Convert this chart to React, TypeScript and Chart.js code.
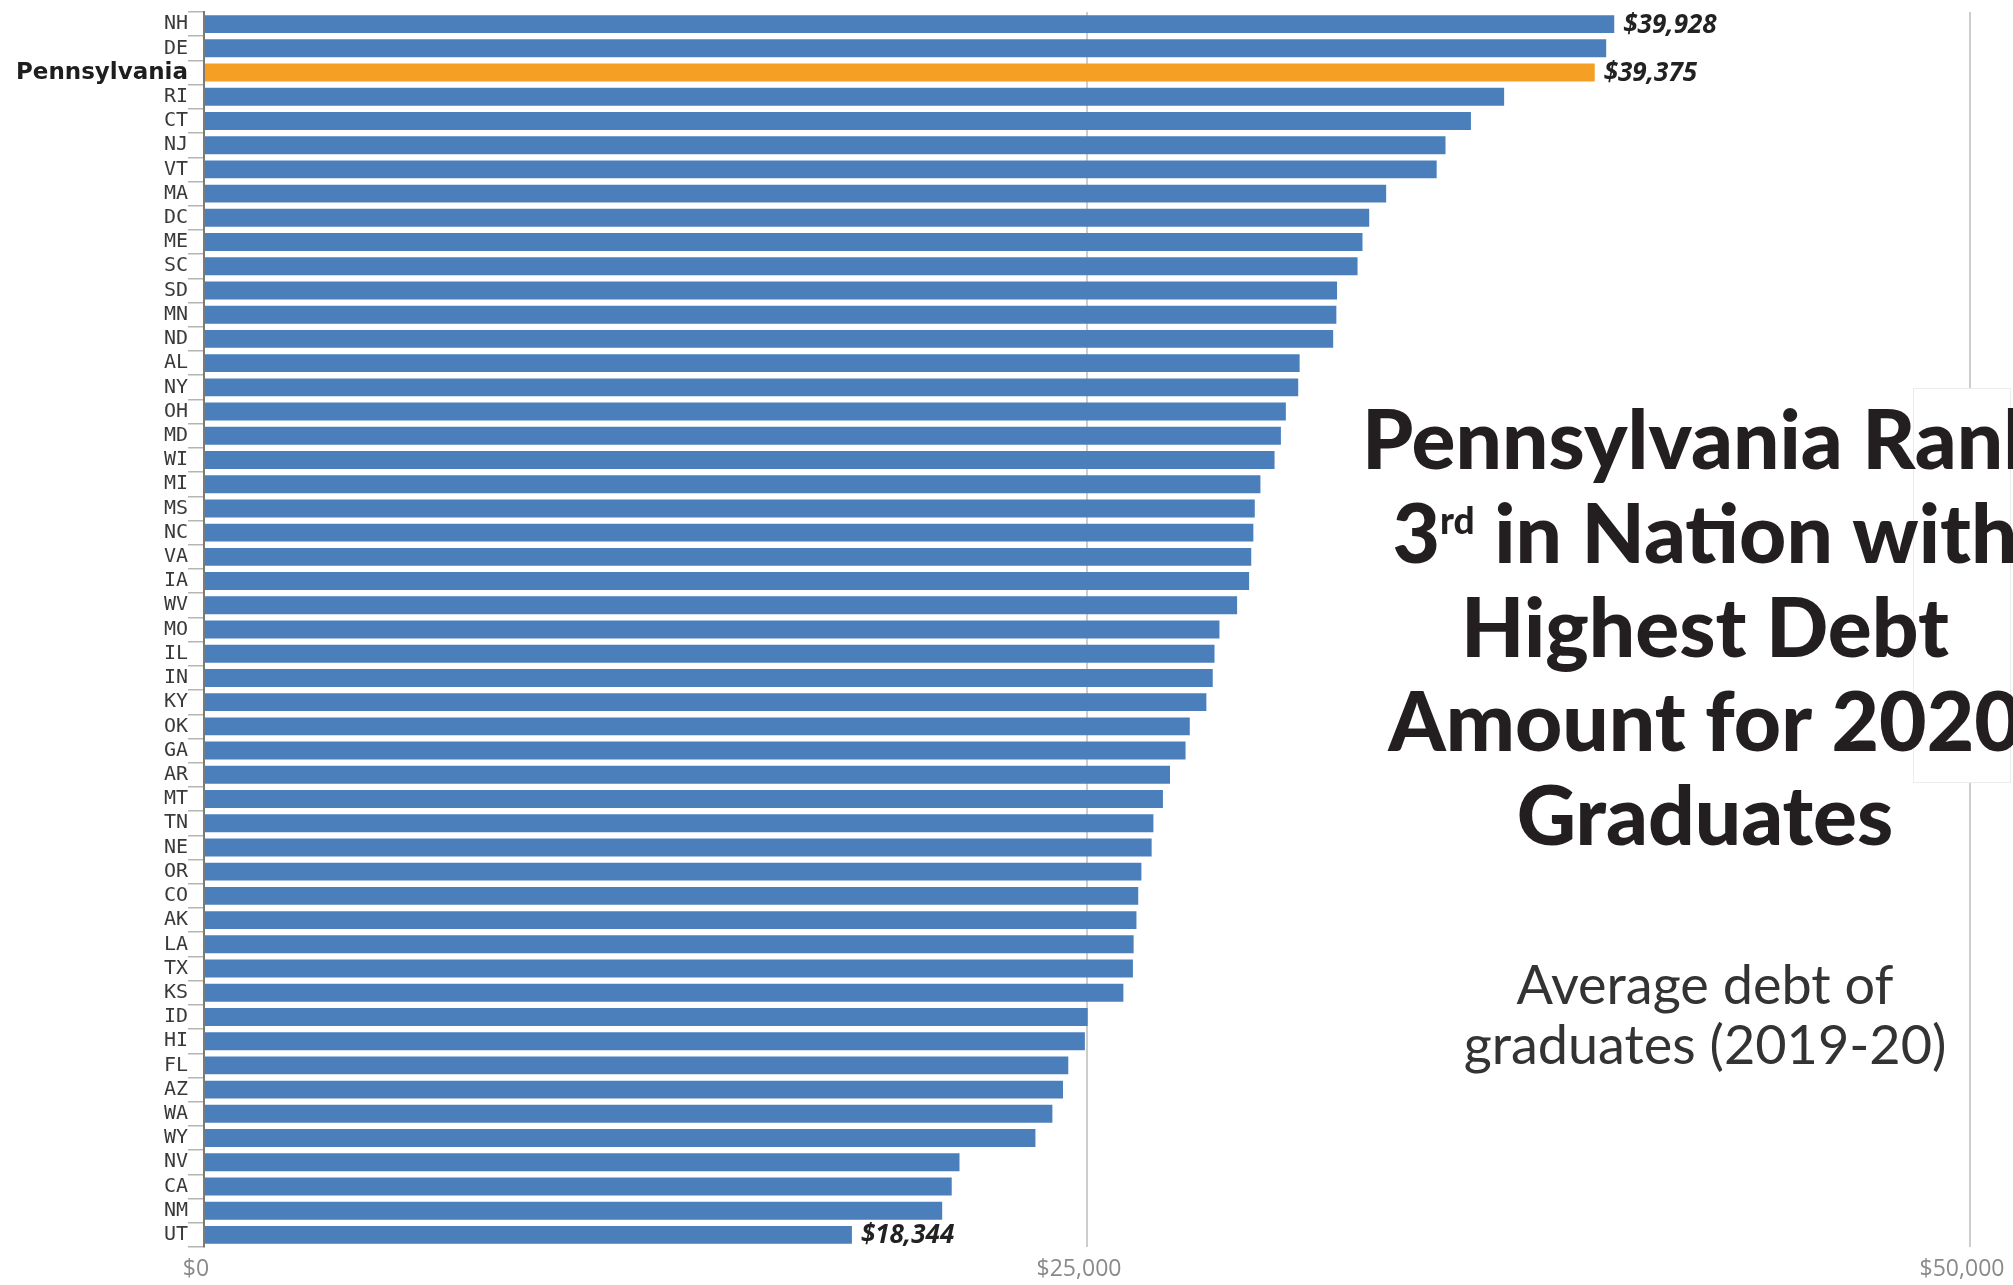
import React, { useEffect, useRef } from "react";
import { Chart, registerables } from "chart.js";

Chart.register(...registerables);

// ---- Data ----
const states = [
  "NH", "DE", "Pennsylvania", "RI", "CT", "NJ", "VT", "MA", "DC", "ME",
  "SC", "SD", "MN", "ND", "AL", "NY", "OH", "MD", "WI", "MI",
  "MS", "NC", "VA", "IA", "WV", "MO", "IL", "IN", "KY", "OK",
  "GA", "AR", "MT", "TN", "NE", "OR", "CO", "AK", "LA", "TX",
  "KS", "ID", "HI", "FL", "AZ", "WA", "WY", "NV", "CA", "NM", "UT",
];

const debtValues = [
  39928, 39700, 39375, 36810, 35870, 35150, 34900, 33470, 32990, 32800,
  32660, 32080, 32060, 31970, 31020, 30980, 30630, 30490, 30310, 29910,
  29750, 29710, 29650, 29590, 29250, 28750, 28610, 28560, 28380, 27910,
  27790, 27350, 27150, 26880, 26830, 26540, 26450, 26400, 26320, 26300,
  26030, 25020, 24940, 24470, 24320, 24020, 23540, 21390, 21170, 20900, 18344,
];

const highlightState = "Pennsylvania";
const labeledStates = ["NH", "Pennsylvania", "UT"];
const xTickValues = [0, 25000, 50000];

const titleLines = [
  "Pennsylvania Rank",
  "3|rd| in Nation with",
  "Highest Debt",
  "Amount for 2020",
  "Graduates",
];
const subtitleLines = ["Average debt of", "graduates (2019-20)"];

// ---- Styles ----
const BLUE = "#4a7fbb";
const ORANGE = "#f5a024";
const fmt = (v: number) => "$" + Number(v).toLocaleString("en-US");

const valueLabelPlugin = {
  id: "valueLabels",
  afterDatasetsDraw(chart: any) {
    const ctx = chart.ctx;
    const meta = chart.getDatasetMeta(0);
    ctx.save();
    ctx.font = 'italic 700 26px "Open Sans", sans-serif';
    ctx.fillStyle = "#222222";
    ctx.textAlign = "left";
    ctx.textBaseline = "middle";
    meta.data.forEach((bar: any, i: number) => {
      if (!labeledStates.includes(states[i])) return;
      ctx.fillText(fmt(debtValues[i]), bar.x + 9, bar.y + 1);
    });
    ctx.restore();
  },
};

const overlayPlugin = {
  id: "titleOverlay",
  afterDraw(chart: any) {
    const ctx = chart.ctx;
    ctx.save();
    // white panel over right gridline
    ctx.fillStyle = "#ffffff";
    ctx.fillRect(1913, 388, 97, 394);
    ctx.strokeStyle = "#ececec";
    ctx.lineWidth = 1;
    ctx.strokeRect(1913.5, 388.5, 97, 394);

    const cx = 1705;
    const big = '900 82px "Lato", sans-serif';
    const sup = '900 37px "Lato", sans-serif';
    ctx.fillStyle = "#231f20";
    ctx.textBaseline = "alphabetic";
    ctx.textAlign = "left";
    const baseY = 469;
    const step = 94;
    titleLines.forEach((line, li) => {
      const parts = line.split("|");
      const segs = parts.map((t, k) => ({ t, sup: k % 2 === 1 }));
      let w = 0;
      segs.forEach((s) => {
        ctx.font = s.sup ? sup : big;
        w += ctx.measureText(s.t).width;
      });
      let x = cx - w / 2;
      const y = baseY + li * step;
      segs.forEach((s) => {
        ctx.font = s.sup ? sup : big;
        ctx.fillText(s.t, x, s.sup ? y - 29 : y);
        x += ctx.measureText(s.t).width;
      });
    });

    ctx.font = '400 54px "Lato", sans-serif';
    ctx.fillStyle = "#333333";
    ctx.textAlign = "center";
    subtitleLines.forEach((line, i) => {
      ctx.fillText(line, cx, 1004 + i * 60);
    });
    ctx.restore();
  },
};

export default function App() {
  const canvasRef = useRef<HTMLCanvasElement | null>(null);

  useEffect(() => {
    if (!canvasRef.current) return;
    const chart = new Chart(canvasRef.current, {
      type: "bar",
      data: {
        labels: states,
        datasets: [
          {
            data: debtValues,
            backgroundColor: states.map((s) => (s === highlightState ? ORANGE : BLUE)),
            borderWidth: 0,
            barPercentage: 0.74,
            categoryPercentage: 1,
          },
        ],
      },
      options: {
        indexAxis: "y",
        animation: false,
        responsive: false,
        maintainAspectRatio: false,
        layout: { padding: { top: 10, right: 43, left: 0, bottom: 0 } },
        plugins: {
          legend: { display: false },
          tooltip: { enabled: false },
          title: { display: false },
        },
        scales: {
          x: {
            type: "linear",
            min: 0,
            max: 50000,
            position: "bottom",
            afterBuildTicks: (scale: any) => {
              scale.ticks = xTickValues.map((v) => ({ value: v }));
            },
            afterFit: (scale: any) => {
              scale.height = 38;
              scale.paddingLeft = 0;
              scale.paddingRight = 0;
            },
            grid: {
              color: (c: any) => (c.tick && c.tick.value === 0 ? "rgba(0,0,0,0)" : "#cdcdcd"),
              lineWidth: 2,
              drawTicks: false,
            },
            border: { display: false },
            ticks: {
              callback: (v: any) => fmt(v),
              color: "#8a8a8a",
              font: { family: '"Open Sans", sans-serif', size: 23 },
              padding: 9,
              labelOffset: -8,
              maxRotation: 0,
              autoSkip: false,
            },
          },
          y: {
            type: "category",
            afterFit: (scale: any) => {
              scale.width = 204;
            },
            grid: {
              offset: true,
              drawOnChartArea: false,
              drawTicks: true,
              tickLength: 16,
              color: "#b5b5b5",
              lineWidth: 1.5,
            },
            border: { display: true, color: "#7a7a7a", width: 2 },
            ticks: {
              autoSkip: false,
              padding: 0,
              color: (c: any) => (states[c.index] === highlightState ? "#1e1e1e" : "#3a3a3a"),
              font: (c: any) =>
                states[c.index] === highlightState
                  ? { family: '"DejaVu Sans", sans-serif', size: 23, weight: "bold" }
                  : { family: '"DejaVu Sans Mono", monospace', size: 20 },
            },
          },
        },
      },
      plugins: [valueLabelPlugin, overlayPlugin],
    } as any);
    return () => chart.destroy();
  }, []);

  return (
    <div style={{ position: "fixed", left: 0, top: 0, width: 2013, height: 1285, background: "#fff" }}>
      <canvas ref={canvasRef} width={2013} height={1285} style={{ display: "block" }} />
    </div>
  );
}
